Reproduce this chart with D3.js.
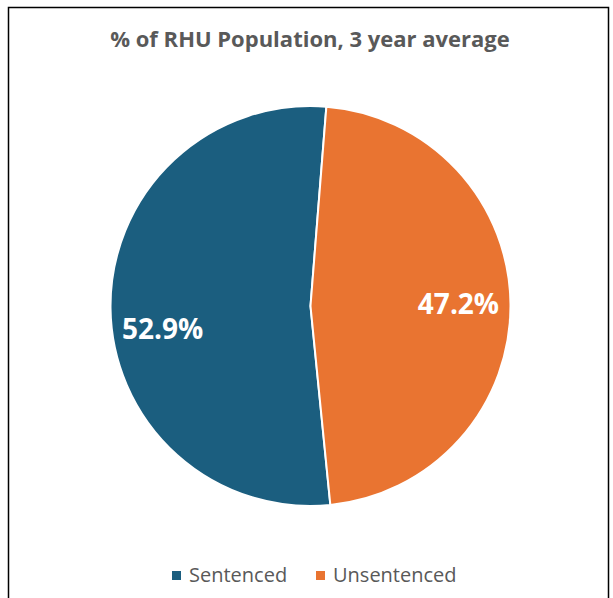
<!DOCTYPE html>
<html><head><meta charset="utf-8">
<script src="https://cdn.jsdelivr.net/npm/d3@7"></script>
<style>body{margin:0;background:#fff}svg{display:block}</style>
</head><body>
<script>
const categories = ["Sentenced", "Unsentenced"];
const values = [52.9, 47.2];
const labels = ["52.9%", "47.2%"];
const colors = ["#1B5E7F", "#E97431"];
const title = "% of RHU Population, 3 year average";

const W = 613, H = 598;
const svg = d3.select("body").append("svg").attr("width", W).attr("height", H);
svg.append("rect").attr("x", 8.5).attr("y", 7.5).attr("width", 600).attr("height", 600)
  .attr("fill", "#fff").attr("stroke", "#000").attr("stroke-width", 1.5);

svg.append("text").attr("x", 310).attr("y", 47).attr("text-anchor", "middle")
  .attr("font-family", "Open Sans, sans-serif").attr("font-weight", "bold").attr("font-size", 22)
  .attr("fill", "#595959").text(title);

const cx = 310.5, cy = 306, r = 200;
const start = 174.3 * Math.PI / 180;
const pie = d3.pie().sort(null).startAngle(start).endAngle(start + 2 * Math.PI);
const arcs = pie(values);
const arc = d3.arc().innerRadius(0).outerRadius(r);
const g = svg.append("g").attr("transform", `translate(${cx},${cy})`);
g.selectAll("path").data(arcs).join("path")
  .attr("d", arc).attr("fill", (d, i) => colors[i])
  .attr("stroke", "#fff").attr("stroke-width", 2);

// Excel best-fit label nudges (vertical)
const labelDy = [32, 9];
const labelArc = d3.arc().innerRadius(r * 0.74).outerRadius(r * 0.74);
g.selectAll("text.lbl").data(arcs).join("text").attr("class", "lbl")
  .attr("x", d => labelArc.centroid(d)[0])
  .attr("y", (d, i) => labelArc.centroid(d)[1] + labelDy[i])
  .attr("text-anchor", "middle")
  .attr("font-family", "Open Sans, sans-serif").attr("font-weight", "bold").attr("font-size", 28)
  .attr("fill", "#fff").text((d, i) => labels[i]);

const legend = svg.append("g");
const lx = [172, 316];
categories.forEach((c, i) => {
  legend.append("rect").attr("x", lx[i]).attr("y", 571).attr("width", 9).attr("height", 9).attr("fill", colors[i]);
  legend.append("text").attr("x", lx[i] + 17).attr("y", 582)
    .attr("font-family", "Open Sans, sans-serif").attr("font-size", 20)
    .attr("fill", "#595959").text(c);
});
</script>
</body></html>
